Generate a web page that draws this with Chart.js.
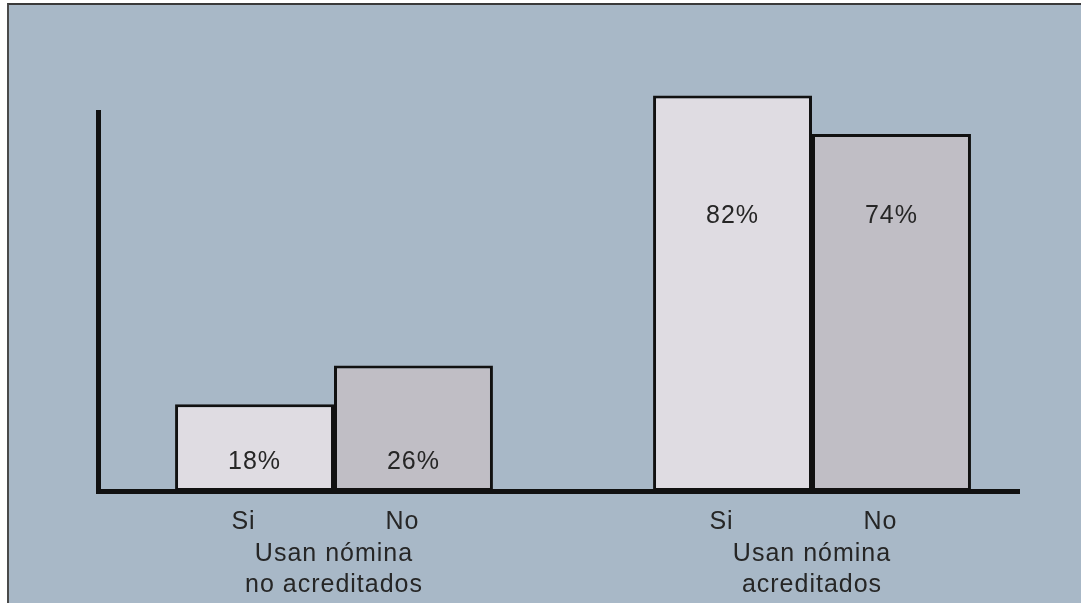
<!DOCTYPE html>
<html>
<head>
<meta charset="utf-8">
<script src="https://cdn.jsdelivr.net/npm/chart.js@4/dist/chart.umd.min.js"></script>
<style>
  html, body { margin: 0; padding: 0; background: #fff; }
  #frame {
    position: absolute; left: 7px; top: 3px; width: 1074px; height: 600px;
    background: #a8b8c7;
    border-top: 2px solid #3a3a3a;
    border-left: 2px solid #4a4a4a;
    box-sizing: border-box;
  }
  #wrap { position: absolute; left: 0; top: 0; width: 1081px; height: 603px; }
</style>
</head>
<body>
<div id="frame"></div>
<div id="wrap"><canvas id="myChart" width="1081" height="603"></canvas></div>
<script>
const groups = [
  ["", "Usan nómina", "no acreditados"],
  ["", "Usan nómina", "acreditados"],
];
const seriesNames = ["Si", "No"];
const siValues = [18, 82];
const noValues = [26, 74];

const fontFamily = "'Liberation Sans', Arial, sans-serif";
const textColor = "#262626";

// axes lines + labels drawn over the bars
const extras = {
  id: "extras",
  beforeDraw(chart) {
    chart.ctx.letterSpacing = "1px";
  },
  afterDatasetsDraw(chart) {
    const { ctx, chartArea, scales } = chart;
    const y = scales.y;
    ctx.save();
    ctx.letterSpacing = "1px";

    // value labels and Si / No under each bar
    ctx.font = "25px " + fontFamily;
    ctx.fillStyle = textColor;
    ctx.textAlign = "center";
    ctx.textBaseline = "middle";
    chart.data.datasets.forEach((ds, i) => {
      const meta = chart.getDatasetMeta(i);
      meta.data.forEach((bar, j) => {
        const v = ds.data[j];
        const ly = v > 50 ? y.getPixelForValue(57) : y.getPixelForValue(6);
        ctx.fillText(v + "%", bar.x, ly);
        ctx.fillText(ds.label, bar.x - 11, chartArea.bottom + 31);
      });
    });

    // axes
    ctx.fillStyle = "#111";
    ctx.fillRect(chartArea.left + 1, chartArea.top, 5, chartArea.bottom - chartArea.top + 3);
    ctx.fillRect(chartArea.left + 2, chartArea.bottom - 2, chartArea.right - 31 - chartArea.left - 2, 5);
    ctx.restore();
  },
};

new Chart(document.getElementById("myChart"), {
  type: "bar",
  data: {
    labels: groups,
    datasets: [
      {
        label: seriesNames[0],
        data: siValues,
        backgroundColor: "#dfdce2",
        borderColor: "#111",
        borderWidth: 3,
        borderSkipped: false,
        clip: false,
      },
      {
        label: seriesNames[1],
        data: noValues,
        backgroundColor: "#c0bec5",
        borderColor: "#111",
        borderWidth: 3,
        borderSkipped: false,
        clip: false,
      },
    ],
  },
  options: {
    responsive: false,
    animation: false,
    layout: { padding: { left: 95, right: 30, top: 110, bottom: 0 } },
    datasets: { bar: { categoryPercentage: 0.665, barPercentage: 1 } },
    scales: {
      x: {
        grid: { display: false, drawTicks: false },
        border: { display: false },
        afterFit(scale) { scale.height = 112; },
        ticks: {
          padding: 17,
          color: textColor,
          font: { family: fontFamily, size: 25, lineHeight: 1.24 },
        },
      },
      y: { display: false, min: 0, max: 79 },
    },
    plugins: {
      legend: { display: false },
      tooltip: { enabled: false },
    },
  },
  plugins: [extras],
});
</script>
</body>
</html>
